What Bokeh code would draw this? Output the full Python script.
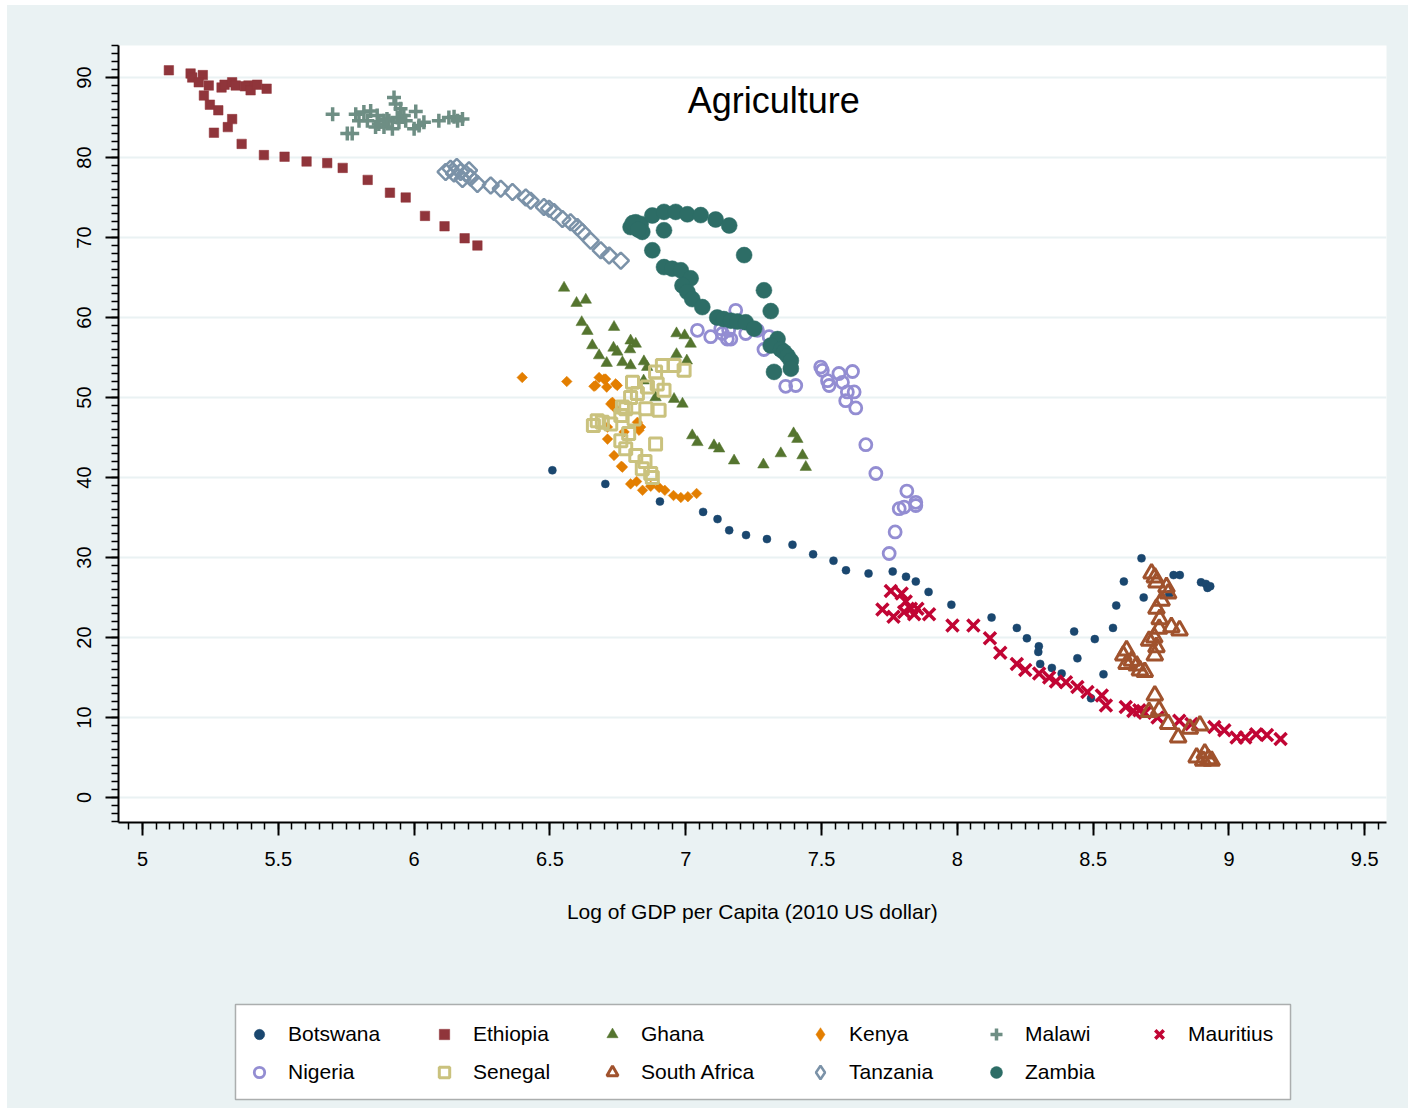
import numpy as np
from bokeh.plotting import figure
from bokeh.layouts import column
from bokeh.models import FixedTicker, Legend, LegendItem, Label, BoxAnnotation
from bokeh.embed import file_html
from bokeh.resources import INLINE

# ---------------- data ----------------
botswana_x = [6.509, 6.704, 6.905, 7.064, 7.117, 7.160, 7.222, 7.299, 7.393, 7.469, 7.544, 7.590, 7.673,
              7.762, 7.811, 7.847, 7.894, 7.978, 8.126, 8.219, 8.256, 8.300, 8.298, 8.305, 8.348, 8.384,
              8.492, 8.430, 8.442, 8.506, 8.538, 8.573, 8.585, 8.613, 8.678, 8.686, 8.780, 8.796, 8.819,
              8.897, 8.915, 8.921, 8.931]
botswana_y = [40.9, 39.2, 37.0, 35.7, 34.8, 33.4, 32.8, 32.3, 31.6, 30.4, 29.6, 28.4, 28.0,
              28.25, 27.6, 27.0, 25.7, 24.1, 22.5, 21.2, 19.9, 18.9, 18.2, 16.7, 16.2, 15.5,
              12.4, 20.75, 17.4, 19.8, 15.4, 21.2, 24.0, 27.0, 29.9, 25.0, 25.4, 27.8, 27.8,
              26.9, 26.7, 26.2, 26.4]

ethiopia_x = [5.097, 5.177, 5.183, 5.222, 5.207, 5.244, 5.226, 5.248, 5.279, 5.263, 5.314, 5.330, 5.291,
              5.302, 5.330, 5.343, 5.390, 5.377, 5.398, 5.422, 5.457, 5.365, 5.447, 5.523, 5.604, 5.680,
              5.737, 5.829, 5.911, 5.969, 6.040, 6.112, 6.186, 6.233]
ethiopia_y = [90.9, 90.5, 90.0, 90.3, 89.4, 89.0, 87.75, 86.6, 85.9, 83.1, 83.8, 84.8, 88.75,
              89.1, 89.4, 89.0, 89.0, 88.9, 88.4, 89.1, 88.6, 81.7, 80.3, 80.1, 79.5, 79.3,
              78.7, 77.2, 75.6, 75.0, 72.7, 71.4, 69.9, 69.0]

ghana_x = [6.552, 6.598, 6.632, 6.617, 6.638, 6.736, 6.656, 6.681, 6.709, 6.734, 6.748, 6.797, 6.816,
           6.795, 6.767, 6.797, 6.846, 6.858, 6.966, 6.996, 7.018, 6.966, 7.004, 6.957, 6.988, 6.889,
           6.845, 7.024, 7.043, 7.104, 7.123, 7.178, 7.286, 7.350, 7.397, 7.411, 7.430, 7.442]
ghana_y = [63.7, 61.8, 62.2, 59.4, 58.3, 58.8, 56.5, 55.25, 54.3, 56.2, 55.7, 57.1, 56.7,
           56.0, 54.4, 54.0, 54.5, 53.8, 58.0, 57.75, 56.7, 55.4, 54.6, 49.8, 49.2, 50.0,
           52.1, 45.25, 44.4, 44.0, 43.6, 42.1, 41.6, 43.0, 45.5, 44.8, 42.75, 41.3]

kenya_x = [6.398, 6.562, 6.681, 6.705, 6.662, 6.709, 6.748, 6.668, 6.699, 6.742, 6.730, 6.742, 6.724,
           6.712, 6.712, 6.736, 6.767, 6.773, 6.828, 6.822, 6.834, 6.763, 6.797, 6.819, 6.841, 6.871,
           6.902, 6.923, 6.955, 6.982, 7.008, 7.040]
kenya_y = [52.5, 52.0, 52.5, 52.3, 51.4, 51.3, 51.5, 51.5, 52.3, 51.7, 49.4, 48.6, 49.2,
           46.3, 44.8, 42.75, 41.3, 45.7, 45.9, 46.9, 46.3, 41.4, 39.2, 39.5, 38.4, 38.9,
           38.75, 38.4, 37.75, 37.5, 37.6, 38.0]

malawi_x = [5.700, 5.754, 5.772, 5.785, 5.815, 5.797, 5.840, 5.864, 5.828, 5.858, 5.889, 5.889, 5.926,
            5.932, 5.950, 5.938, 5.962, 5.920, 5.907, 5.944, 5.969, 6.006, 6.000, 6.018, 6.036, 6.091,
            6.128, 6.147, 6.178, 6.160, 5.870, 5.900]
malawi_y = [85.4, 83.0, 83.0, 85.4, 85.7, 84.6, 85.8, 85.25, 84.6, 83.8, 84.6, 83.8, 87.5,
            86.7, 86.1, 85.0, 85.25, 83.6, 84.6, 84.4, 84.6, 85.75, 83.6, 84.0, 84.4, 84.6,
            85.0, 85.1, 84.8, 84.6, 84.2, 84.8]

mauritius_x = [7.755, 7.724, 7.765, 7.795, 7.810, 7.829, 7.841, 7.804, 7.853, 7.896, 7.982, 8.059, 8.120,
               8.158, 8.219, 8.250, 8.301, 8.338, 8.363, 8.400, 8.442, 8.479, 8.532, 8.547, 8.620, 8.648,
               8.670, 8.690, 8.737, 8.817, 8.862, 8.946, 8.983, 9.028, 9.060, 9.100, 9.140, 9.190]
mauritius_y = [25.8, 23.5, 22.6, 25.5, 24.5, 23.6, 22.9, 23.2, 23.6, 22.9, 21.5, 21.5, 19.9,
               18.1, 16.7, 15.95, 15.5, 15.0, 14.5, 14.4, 13.8, 13.2, 12.75, 11.5, 11.3, 10.8,
               10.9, 10.6, 10.0, 9.6, 9.2, 8.8, 8.4, 7.5, 7.5, 7.9, 7.8, 7.3]

nigeria_x = [7.184, 7.043, 7.092, 7.135, 7.166, 7.221, 7.264, 7.307, 7.288, 7.368, 7.405, 7.497, 7.503,
             7.564, 7.614, 7.522, 7.528, 7.577, 7.595, 7.620, 7.589, 7.626, 7.663, 7.700, 7.814, 7.786,
             7.804, 7.847, 7.847, 7.771, 7.749, 7.129, 7.158, 7.153]
nigeria_y = [60.9, 58.4, 57.6, 58.0, 57.3, 58.0, 58.4, 57.6, 56.0, 51.4, 51.5, 53.8, 53.4,
             53.0, 53.25, 52.1, 51.5, 51.9, 50.7, 50.7, 49.6, 48.7, 44.1, 40.5, 38.3, 36.1,
             36.3, 36.9, 36.5, 33.2, 30.5, 58.6, 58.4, 57.3]

senegal_x = [6.674, 6.693, 6.660, 6.724, 6.761, 6.767, 6.797, 6.779, 6.810, 6.859, 6.853, 6.902, 6.822,
             6.804, 6.895, 6.920, 6.889, 6.914, 6.957, 6.994, 6.761, 6.779, 6.816, 6.840, 6.871, 6.889,
             6.877, 6.850, 6.790]
senegal_y = [47.1, 46.9, 46.5, 46.7, 47.75, 48.8, 50.0, 48.6, 47.3, 51.3, 48.6, 48.4, 50.5,
             51.9, 51.7, 50.9, 53.2, 54.0, 54.0, 53.4, 44.6, 43.6, 42.75, 41.1, 40.5, 44.2,
             40.0, 42.0, 45.5]

safrica_x = [8.715, 8.727, 8.733, 8.770, 8.776, 8.752, 8.733, 8.745, 8.788, 8.818, 8.743, 8.725, 8.706,
             8.733, 8.727, 8.623, 8.611, 8.642, 8.623, 8.660, 8.672, 8.690, 8.727, 8.706, 8.743, 8.776,
             8.813, 8.856, 8.893, 8.881, 8.911, 8.924, 8.936, 8.905]
safrica_y = [28.0, 27.5, 26.9, 26.3, 25.5, 24.6, 23.6, 22.3, 21.3, 20.9, 21.1, 20.0, 19.6,
             18.8, 17.75, 18.4, 17.75, 17.1, 16.7, 16.5, 15.9, 15.7, 12.75, 10.7, 10.9, 9.2,
             7.5, 8.6, 9.0, 5.0, 5.5, 4.8, 4.6, 4.6]

tanzania_x = [6.116, 6.134, 6.157, 6.147, 6.171, 6.190, 6.208, 6.202, 6.178, 6.233, 6.282, 6.319, 6.362,
              6.411, 6.429, 6.478, 6.497, 6.515, 6.546, 6.576, 6.601, 6.619, 6.650, 6.687, 6.718, 6.761]
tanzania_y = [78.2, 78.6, 78.8, 78.0, 78.2, 78.0, 77.5, 78.4, 77.3, 76.7, 76.5, 76.1, 75.7,
              75.0, 74.6, 73.8, 73.6, 73.2, 72.3, 71.9, 71.3, 70.7, 69.6, 68.4, 67.75, 67.1]

zambia_x = [6.797, 6.816, 6.834, 6.840, 6.805, 6.825, 6.877, 6.920, 6.963, 7.006, 7.055, 7.110, 7.160,
            6.920, 6.877, 7.215, 6.920, 6.950, 6.982, 7.018, 6.988, 7.006, 7.024, 7.061, 7.288, 7.313,
            7.116, 7.140, 7.166, 7.190, 7.221, 7.252, 7.338, 7.313, 7.350, 7.362, 7.375, 7.387, 7.325,
            7.387]
zambia_y = [71.3, 71.9, 71.7, 70.7, 71.8, 71.0, 72.75, 73.2, 73.2, 72.9, 72.8, 72.25, 71.5,
            70.9, 68.4, 67.8, 66.3, 66.1, 65.9, 64.9, 64.0, 63.2, 62.3, 61.3, 63.4, 60.8,
            60.0, 59.8, 59.6, 59.5, 59.4, 58.6, 57.3, 56.5, 56.0, 55.7, 55.2, 54.6, 53.2,
            53.6]

x_ticks = [5, 5.5, 6, 6.5, 7, 7.5, 8, 8.5, 9, 9.5]
x_tick_labels = ["5", "5.5", "6", "6.5", "7", "7.5", "8", "8.5", "9", "9.5"]
y_ticks = [0, 10, 20, 30, 40, 50, 60, 70, 80, 90]
y_tick_labels = ["0", "10", "20", "30", "40", "50", "60", "70", "80", "90"]

title_text = "Agriculture"
x_label = "Log of GDP per Capita (2010 US dollar)"

# ---------------- styles ----------------
FONT = "Liberation Sans"
BG = "#EAF2F3"

styles = {
    "Botswana": dict(marker="circle", size=8, fill_color="#1A476F", line_color="#1A476F", line_width=0.5),
    "Ethiopia": dict(marker="square", size=9.5, fill_color="#90353B", line_color="#90353B", line_width=0.5),
    "Ghana": dict(marker="triangle", size=11.5, fill_color="#55752F", line_color="#55752F", line_width=0.5),
    "Kenya": dict(marker="square", angle=np.pi / 4, size=7.5, fill_color="#E37E00", line_color="#E37E00", line_width=0.5),
    "Malawi": dict(marker="cross", size=14, line_color="#6E8E84", line_width=3.5),
    "Mauritius": dict(marker="x", size=17, line_color="#C10534", line_width=3.5),
    "Nigeria": dict(marker="circle", size=12, fill_color=None, line_color="#938DD2", line_width=2.8),
    "Senegal": dict(marker="square", size=12, fill_color=None, line_color="#CAC27E", line_width=3),
    "South Africa": dict(marker="triangle", size=16, fill_color=None, line_color="#A0522D", line_width=3),
    "Tanzania": dict(marker="square", angle=np.pi / 4, size=11.5, fill_color=None, line_color="#7B92A8", line_width=2.5),
    "Zambia": dict(marker="circle", size=16, fill_color="#2D6D66", line_color="#2D6D66", line_width=0.5),
}
# the legend draws markers without rotation, so its diamonds use Bokeh's diamond marker
legend_styles = dict(styles)
legend_styles["Kenya"] = dict(marker="diamond", size=10, fill_color="#E37E00", line_color="#E37E00", line_width=0.5)
legend_styles["Tanzania"] = dict(marker="diamond", size=14, fill_color=None, line_color="#7B92A8", line_width=2.5)

series = [
    ("Botswana", botswana_x, botswana_y),
    ("Ethiopia", ethiopia_x, ethiopia_y),
    ("Ghana", ghana_x, ghana_y),
    ("Kenya", kenya_x, kenya_y),
    ("Malawi", malawi_x, malawi_y),
    ("Mauritius", mauritius_x, mauritius_y),
    ("Nigeria", nigeria_x, nigeria_y),
    ("Senegal", senegal_x, senegal_y),
    ("South Africa", safrica_x, safrica_y),
    ("Tanzania", tanzania_x, tanzania_y),
    ("Zambia", zambia_x, zambia_y),
]

# ---------------- main figure ----------------
p = figure(frame_width=1268, frame_height=777,
           min_border_left=111, min_border_right=22, min_border_top=40, min_border_bottom=138,
           x_range=(4.9116, 9.580), y_range=(-3.125, 94.0),
           output_backend="svg", toolbar_location=None)
p.border_fill_color = BG
p.background_fill_color = "white"
p.outline_line_color = None

p.xgrid.visible = False
p.ygrid.grid_line_color = BG
p.ygrid.grid_line_width = 2

p.xaxis.ticker = FixedTicker(ticks=x_ticks, minor_ticks=list(np.round(np.arange(4.95, 9.56, 0.05), 3)))
p.xaxis.major_label_overrides = {t: l for t, l in zip(x_ticks, x_tick_labels)}
p.yaxis.ticker = FixedTicker(ticks=y_ticks, minor_ticks=list(range(-3, 95)))
p.yaxis.major_label_overrides = {t: l for t, l in zip(y_ticks, y_tick_labels)}
p.yaxis.major_label_orientation = "vertical"

for ax in (p.xaxis[0], p.yaxis[0]):
    ax.axis_line_color = "black"
    ax.axis_line_width = 2
    ax.major_tick_line_color = "black"
    ax.major_tick_line_width = 2
    ax.minor_tick_line_color = "black"
    ax.minor_tick_line_width = 1.5
    ax.major_tick_in = 0
    ax.major_tick_out = 13
    ax.minor_tick_in = 0
    ax.minor_tick_out = 7
    ax.major_label_text_font = FONT
    ax.major_label_text_font_size = "20px"
    ax.major_label_text_color = "black"
p.xaxis.major_label_standoff = 16
p.yaxis.major_label_standoff = 15

p.xaxis.axis_label = x_label
p.xaxis.axis_label_text_font = FONT
p.xaxis.axis_label_text_font_size = "21px"
p.xaxis.axis_label_text_font_style = "normal"
p.xaxis.axis_label_text_color = "black"
p.xaxis.axis_label_standoff = 31

for name, xs, ys in series:
    p.scatter(xs, ys, **styles[name])

p.add_layout(Label(x=7.324, y=87.1, text=title_text, text_font=FONT, text_font_size="36px",
                   text_align="center", text_baseline="middle", text_color="black"))

# ---------------- legend strip below (frame ranges are in pixels) ----------------
q = figure(frame_width=1268, frame_height=148,
           min_border_left=111, min_border_right=22, min_border_top=0, min_border_bottom=0,
           x_range=(0, 1268), y_range=(0, 148), x_axis_location=None, y_axis_location=None,
           output_backend="svg", toolbar_location=None)
q.border_fill_color = BG
q.background_fill_color = BG
q.outline_line_color = None
q.grid.visible = False

# legend frame box
q.add_layout(BoxAnnotation(left=117, right=1172, bottom=9, top=104,
                           fill_color="white", fill_alpha=1, line_color="black", line_width=1.5))

# hidden copies of the series: they only supply the legend's glyphs
legend_renderers = {}
for name, xs, ys in series:
    legend_renderers[name] = q.scatter(xs, ys, visible=False, **legend_styles[name])

legend_columns = [["Botswana", "Nigeria"], ["Ethiopia", "Senegal"], ["Ghana", "South Africa"],
                  ["Kenya", "Tanzania"], ["Malawi", "Zambia"], ["Mauritius"]]
marker_centres = [141, 326, 494, 702, 878, 1041]   # px from the strip's left edge
glyph_boxes = [26, 26, 28, 34, 30, 30]

for names, cx, gsz in zip(legend_columns, marker_centres, glyph_boxes):
    half = gsz // 2
    yoff = (36 - half) if len(names) == 2 else (74 - half)
    lg = Legend(items=[LegendItem(label=n, renderers=[legend_renderers[n]]) for n in names],
                location=(cx - half, yoff), orientation="vertical")
    lg.margin = 0
    lg.padding = 0
    lg.spacing = 38 - gsz
    lg.glyph_width = gsz
    lg.glyph_height = gsz
    lg.label_standoff = 29 - half
    lg.label_text_font = FONT
    lg.label_text_font_size = "21px"
    lg.label_text_color = "black"
    lg.label_text_baseline = "middle"
    lg.border_line_color = None
    lg.background_fill_alpha = 0
    lg.inactive_fill_alpha = 0
    lg.click_policy = "none"
    q.add_layout(lg, "center")

layout = column(p, q, spacing=0, margin=(5, 0, 0, 7), styles={"background-color": BG})
open("out.html", "w").write(file_html(layout, INLINE))
